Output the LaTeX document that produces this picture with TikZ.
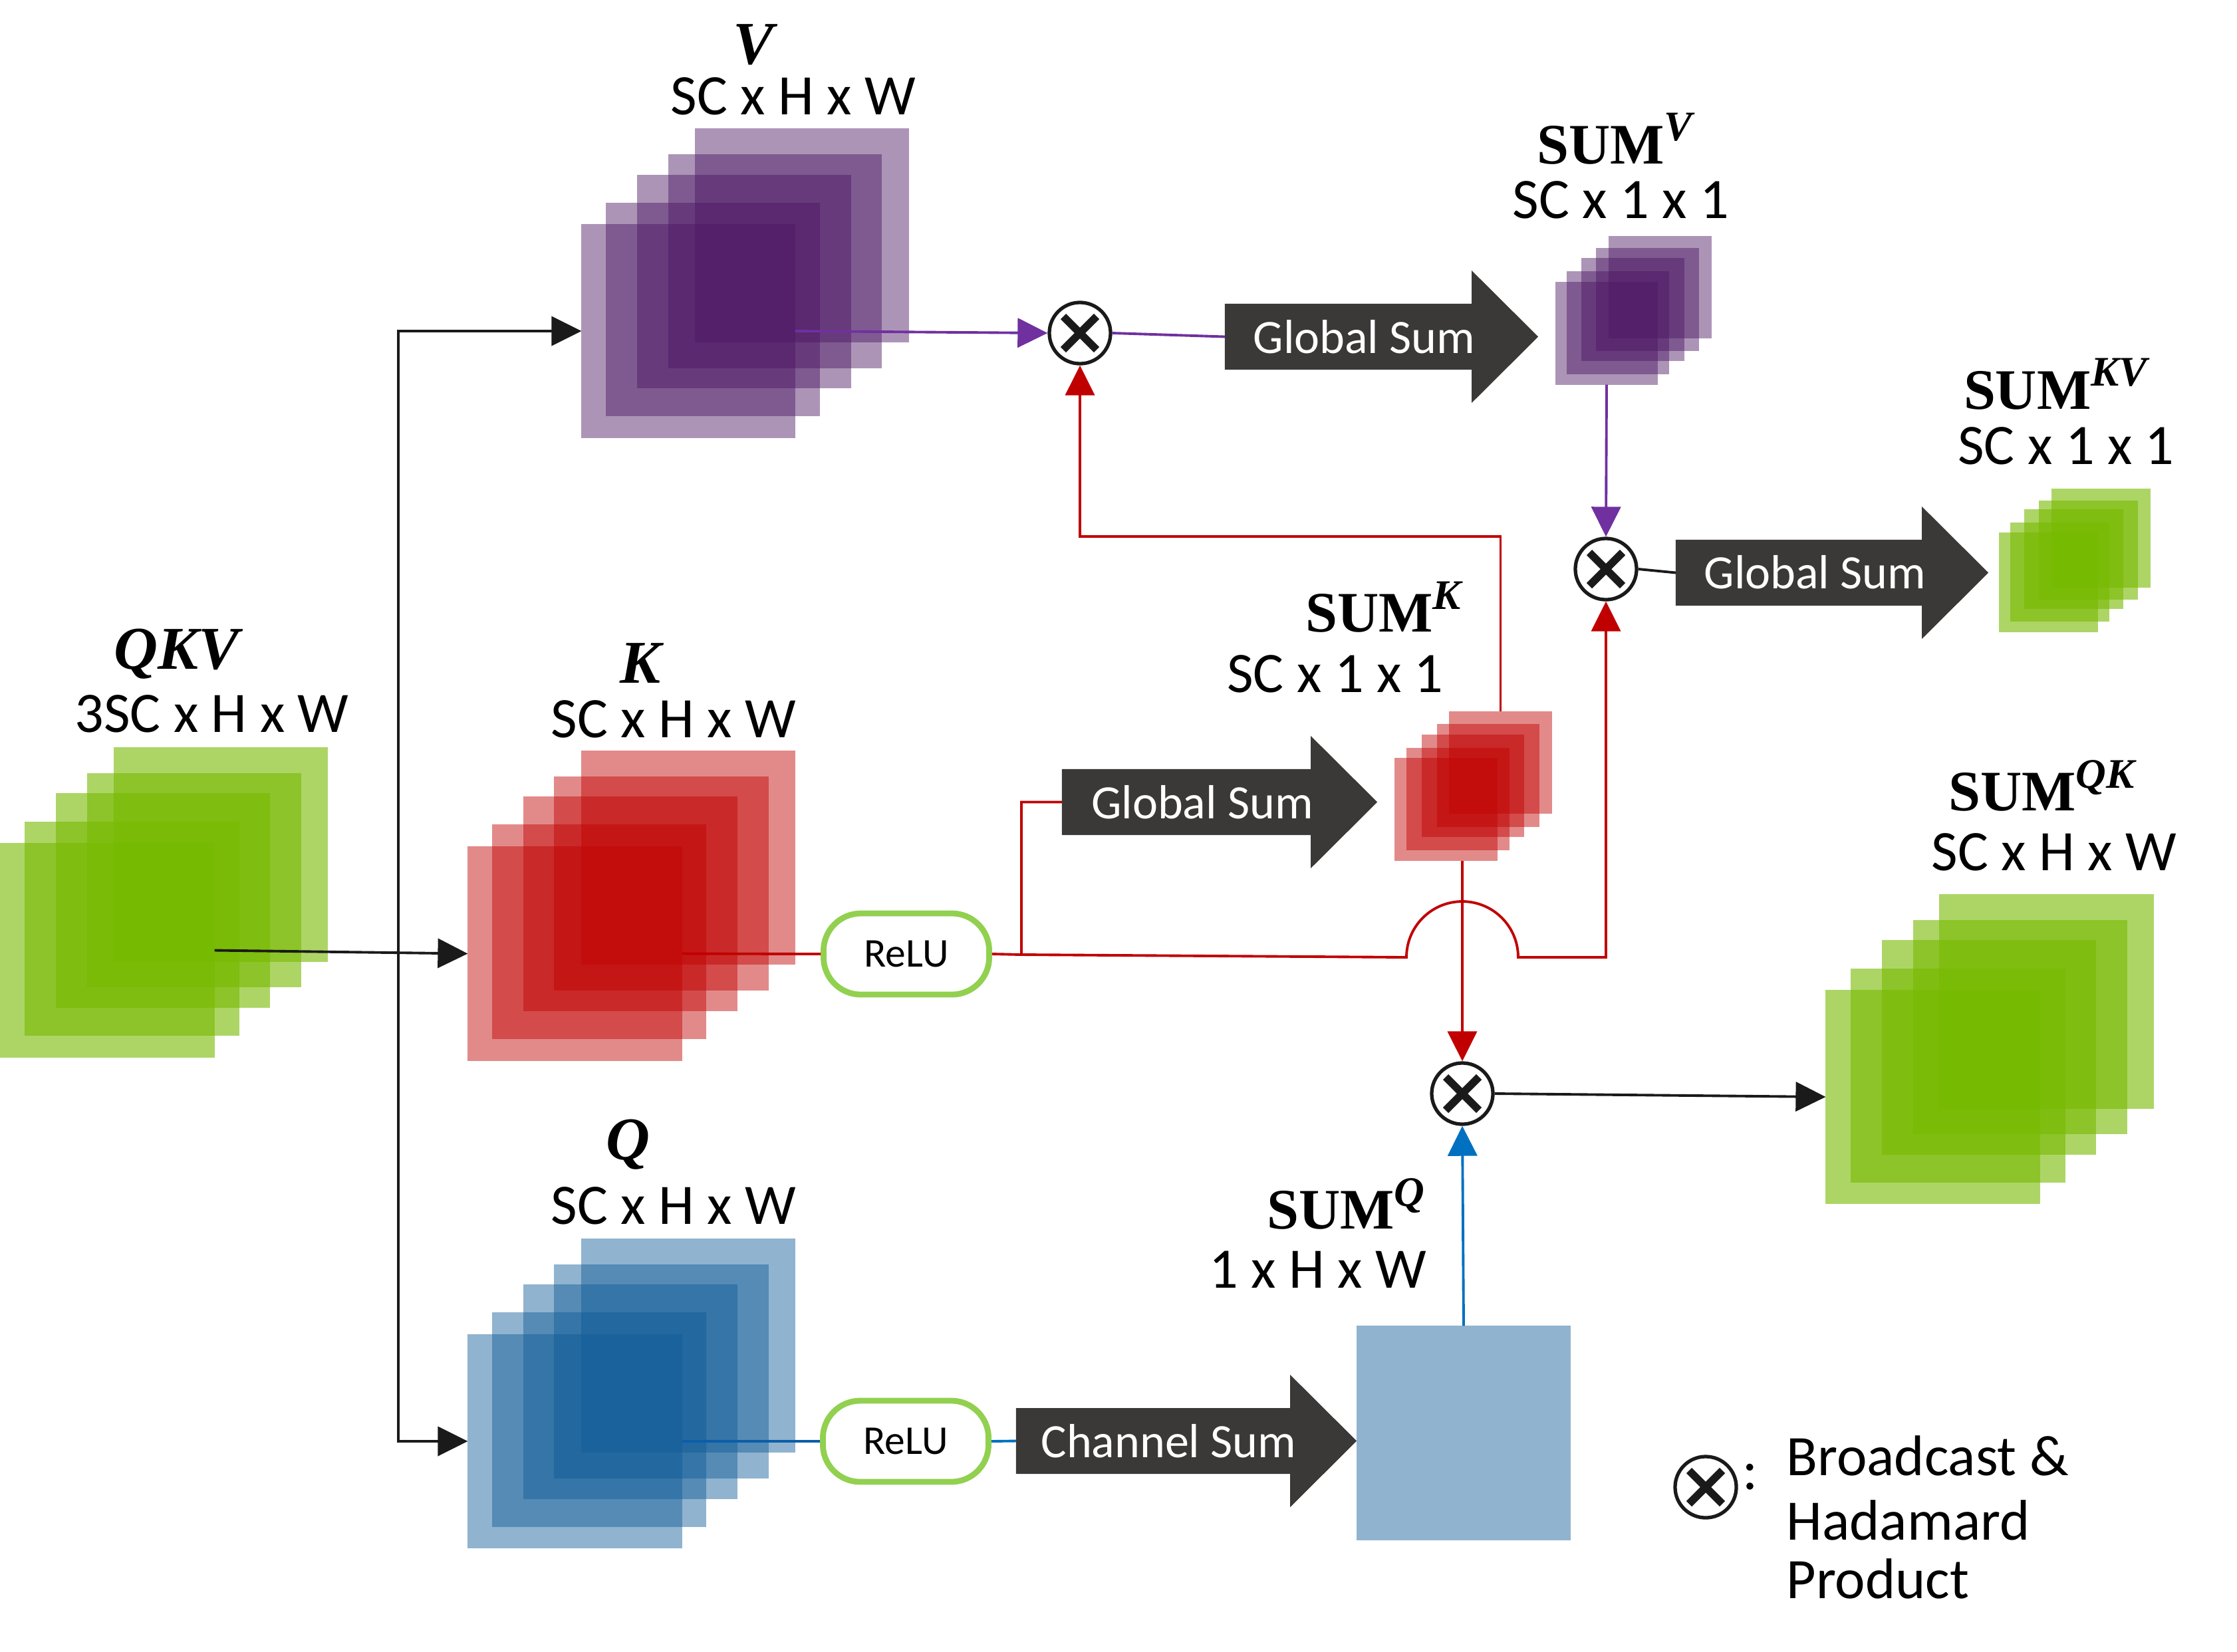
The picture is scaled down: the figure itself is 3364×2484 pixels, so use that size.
\documentclass[tikz,border=0pt]{standalone}
\usepackage{fontspec}
\setmainfont{Carlito}
\newfontfamily\lserif{Liberation Serif}
\usetikzlibrary{arrows.meta,calc}
\definecolor{gbase}{HTML}{76B900}
\definecolor{pbase}{HTML}{4A1562}
\definecolor{rbase}{HTML}{C00000}
\definecolor{bbase}{HTML}{0E5A96}
\definecolor{darkfill}{HTML}{3A3937}
\definecolor{relug}{HTML}{92D050}
\definecolor{redl}{HTML}{C00000}
\definecolor{purl}{HTML}{7030A0}
\definecolor{bluel}{HTML}{0070C0}
\definecolor{blued}{HTML}{0B5EA8}
\definecolor{blk}{HTML}{1A1A1A}
\newcommand\bigarrowfill[1]{\fill[darkfill] (#1.north west) -- (#1.north east) -- ([yshift=0.5cm]#1.north east) -- ([xshift=1cm]#1.east) -- ([yshift=-0.5cm]#1.south east) -- (#1.south east) -- (#1.south west) -- cycle;}
\begin{document}
\begin{tikzpicture}[x=0.01cm, y=-0.01cm,
  layer/.style={rectangle, inner sep=0pt, outer sep=0pt, draw=none},
  glayer/.style={layer, fill=gbase, fill opacity=0.6},
  player/.style={layer, fill=pbase, fill opacity=0.46},
  rlayer/.style={layer, fill=rbase, fill opacity=0.46},
  blayer/.style={layer, fill=bbase, fill opacity=0.46},
  dimtext/.style={font=\fontsize{24.5}{28}\selectfont, inner sep=0pt, anchor=base},
  mathlabel/.style={font=\fontsize{26}{28}\lserif\bfseries\itshape, inner sep=0pt, anchor=base},
  sumlabel/.style={font=\fontsize{24.5}{28}\lserif\bfseries, inner sep=0pt, anchor=base},
  otimesnode/.style={circle, draw=blk, line width=1.5pt, fill=white, minimum size=0.92cm, inner sep=0pt,
    path picture={
      \draw[line width=3.3pt, blk] ([shift={(-0.25cm,-0.25cm)}]path picture bounding box.center) -- ([shift={(0.25cm,0.25cm)}]path picture bounding box.center);
      \draw[line width=3.3pt, blk] ([shift={(-0.25cm,0.25cm)}]path picture bounding box.center) -- ([shift={(0.25cm,-0.25cm)}]path picture bounding box.center);}},
  relubox/.style={rectangle, rounded corners=0.56cm, draw=relug, line width=2.5pt, fill=white,
    minimum width=2.49cm, minimum height=1.22cm, inner sep=0pt, font=\fontsize{17.5}{20}\selectfont},
  gsbody/.style={rectangle, inner sep=0pt, outer sep=0pt, minimum height=0.99cm},
  gstext/.style={text=white, font=\fontsize{20.5}{24}\selectfont, inner sep=0pt, anchor=base},
  conn/.style={line width=1.1pt},
  arrowed/.style={-{Triangle[length=0.45cm,width=0.44cm]}}
]
\useasboundingbox (0,0) rectangle (3364,2484);

% ---------- stacks ----------
\foreach \x/\y [count=\i] in {332/1285.5, 292/1324, 245/1354.5, 198.5/1397, 161.5/1429.5}
  \node[glayer, minimum size=3.22cm] (QKV\i) at (\x,\y) {};
\foreach \x/\y [count=\i] in {1206/354, 1165.5/393, 1119/423.5, 1072/465.5, 1035/498}
  \node[player, minimum size=3.21cm] (V\i) at (\x,\y) {};
\foreach \x/\y [count=\i] in {1035/1290, 994.5/1329, 948/1359.5, 901/1401.5, 864.5/1434.5}
  \node[rlayer, minimum size=3.22cm] (K\i) at (\x,\y) {};
\foreach \x/\y [count=\i] in {1035/2024, 994.5/2063, 948/2093.5, 901/2135.5, 864.5/2168}
  \node[blayer, minimum size=3.22cm] (Q\i) at (\x,\y) {};
\foreach \x/\y [count=\i] in {2496.5/432, 2477.5/450.5, 2455.5/465.5, 2433/485.5, 2416/501.5}
  \node[player, minimum size=1.54cm] (SV\i) at (\x,\y) {};
\foreach \x/\y [count=\i] in {2256.5/1147, 2238/1166.5, 2215/1182, 2192.5/1202, 2174.5/1217.5}
  \node[rlayer, minimum size=1.54cm] (SK\i) at (\x,\y) {};
\foreach \x/\y [count=\i] in {3159.5/809.5, 3140/827.5, 3118.5/841, 3097.5/860.5, 3080.5/876}
  \node[glayer, minimum size=1.49cm] (SKV\i) at (\x,\y) {};
\foreach \x/\y [count=\i] in {3077.5/1506.5, 3038/1545, 2991/1575.5, 2944.5/1618, 2906.5/1650}
  \node[glayer, minimum size=3.22cm] (SQK\i) at (\x,\y) {};
\node[blayer, minimum size=3.22cm] (SQ) at (2201,2155.5) {};

% ---------- labels ----------
\node[mathlabel] (lV) at (1133,96) {V};
\node[dimtext] (dV) at (1193,172) {SC x H x W};
\node[mathlabel] (lK) at (963,1027) {K};
\node[dimtext] (dK) at (1013,1109) {SC x H x W};
\node[mathlabel] (lQ) at (944,1744) {Q};
\node[dimtext] (dQ) at (1013,1841) {SC x H x W};
\node[mathlabel] (lQKV) at (265,1006) {QKV};
\node[dimtext] (dQKV) at (318.5,1101) {3SC x H x W};
\node[sumlabel] (lSV) at (2428,246) {SUM\raisebox{0.34cm}{\fontsize{18}{18}\lserif\bfseries\itshape V}};
\node[dimtext] (dSV) at (2437.5,328) {SC x 1 x 1};
\node[sumlabel] (lSK) at (2080,950) {SUM\raisebox{0.34cm}{\fontsize{18}{18}\lserif\bfseries\itshape K}};
\node[dimtext] (dSK) at (2008,1041) {SC x 1 x 1};
\node[sumlabel] (lSKV) at (3091,615) {SUM\raisebox{0.34cm}{\fontsize{18}{18}\lserif\bfseries\itshape KV}};
\node[dimtext] (dSKV) at (3107,698) {SC x 1 x 1};
\node[sumlabel] (lSQK) at (3070,1219) {SUM\raisebox{0.34cm}{\fontsize{18}{18}\lserif\bfseries\itshape QK}};
\node[dimtext] (dSQK) at (3089,1309) {SC x H x W};
\node[sumlabel] (lSQ) at (2024,1848) {SUM\raisebox{0.34cm}{\fontsize{18}{18}\lserif\bfseries\itshape Q}};
\node[dimtext] (dSQ) at (1982,1937) {1 x H x W};

% ---------- big arrows ----------
\node[gsbody, minimum width=3.71cm] (gsV) at (2027.5,506.5) {};
\bigarrowfill{gsV}
\node[gstext] (tgsV) at (2051.5,531) {Global Sum};
\node[gsbody, minimum width=3.74cm] (gsK) at (1784,1206.5) {};
\bigarrowfill{gsK}
\node[gstext] (tgsK) at (1808,1231) {Global Sum};
\node[gsbody, minimum width=3.70cm] (gsKV) at (2705,861.5) {};
\bigarrowfill{gsKV}
\node[gstext] (tgsKV) at (2729.5,885.5) {Global Sum};
\node[gsbody, minimum width=4.12cm] (cs) at (1734,2167.5) {};
\bigarrowfill{cs}
\node[gstext] (tcs) at (1757.5,2192) {Channel Sum};

% ---------- operators ----------
\node[relubox] (reluK) at (1363,1435) {ReLU};
\node[relubox] (reluQ) at (1362,2168) {ReLU};
\node[otimesnode] (oV) at (1624,501) {};
\node[otimesnode] (oKV) at (2415,856) {};
\node[otimesnode] (oQK) at (2199,1645) {};

% ---------- connectors ----------
\coordinate (br) at (599,1433);
\draw[conn, blk, arrowed] (QKV5.east) -- (K5.west);
\draw[conn, blk, arrowed] (br) |- (V5.west);
\draw[conn, blk, arrowed] (br) |- (Q5.west);

\draw[conn, purl, arrowed] (V5.east) -- (oV.west);
\draw[conn, purl] (oV.east) -- (gsV.west);
\draw[conn, purl, arrowed] (SV5.south) -- (oKV.north);
\draw[conn, blk] (oKV.east) -- (gsKV.west);

\draw[conn, redl] (K5.east) -- (reluK.west);
\coordinate (kj) at (1536,1436);
\draw[conn, redl] (reluK.east) -- (kj) |- (gsK.west);
\draw[conn, redl, arrowed] (kj) -- (2115,1440) arc[start angle=180, end angle=360, radius=84] -| (oKV.south);
\draw[conn, redl, arrowed] (SK1.north) -- (2256.5,807) -| (oV.south);
\coordinate (skdn) at (2199,1295);
\draw[conn, redl, arrowed] (skdn) -- (oQK.north);

\draw[conn, blued] (Q5.east) -- (reluQ.west);
\draw[conn, bluel] (reluQ.east) -- (cs.west);
\draw[conn, bluel, arrowed] (SQ.north) -- (oQK.south);
\draw[conn, blk, arrowed] (oQK.east) -- (SQK5.west);

% ---------- legend ----------
\node[otimesnode] (leg) at (2565,2237) {};
\node[dimtext] (colon) at (2632,2240) {:};
\node[dimtext, anchor=base west] (lg1) at (2686,2219) {Broadcast \&};
\node[dimtext, anchor=base west] (lg2) at (2686,2316) {Hadamard};
\node[dimtext, anchor=base west] (lg3) at (2686,2404) {Product};
\end{tikzpicture}
\end{document}
